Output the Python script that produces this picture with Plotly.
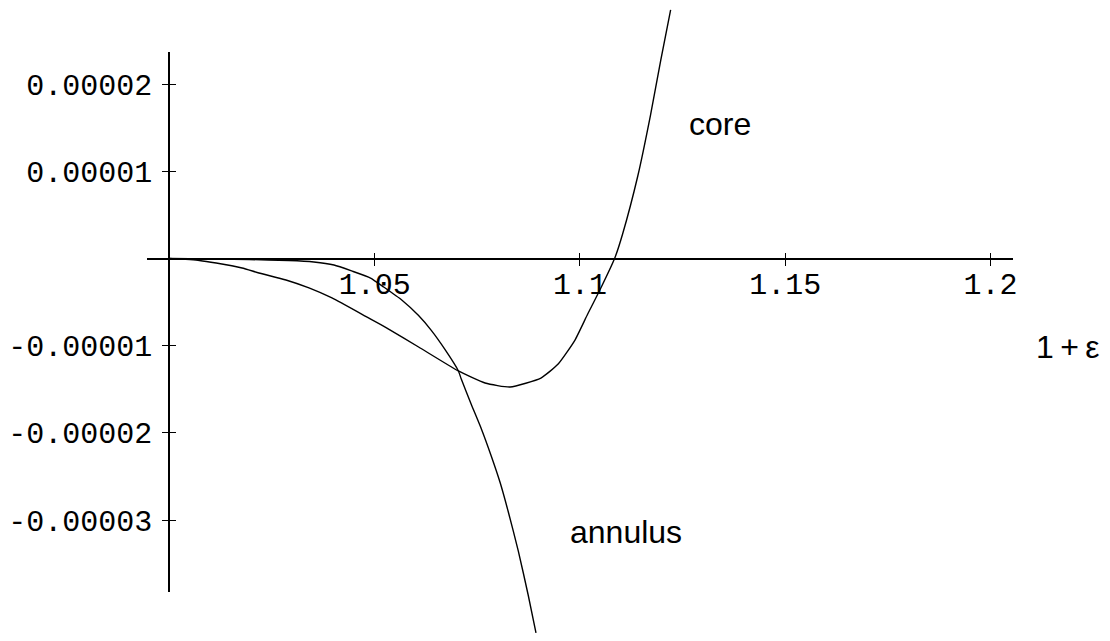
import plotly.graph_objects as go

# Energy difference curves versus 1 + epsilon
core_x = [1.0, 1.0073, 1.0114, 1.0177, 1.0218, 1.0284, 1.0340, 1.0396, 1.0485,
          1.0534, 1.0607, 1.0704, 1.0769, 1.0830, 1.0905, 1.0947, 1.0988, 1.1019,
          1.1051, 1.1085, 1.1104, 1.1141, 1.1172, 1.1197, 1.1221]
core_y = [0.0, -0.24e-6, -0.53e-6, -1.10e-6, -1.67e-6, -2.48e-6, -3.39e-6, -4.54e-6,
          -6.83e-6, -8.10e-6, -10.16e-6, -12.91e-6, -14.29e-6, -14.75e-6, -13.72e-6,
          -12.11e-6, -9.36e-6, -6.38e-6, -3.39e-6, 0.05e-6, 2.80e-6, 9.45e-6,
          16.44e-6, 22.75e-6, 28.49e-6]

annulus_x = [1.0, 1.0194, 1.0291, 1.0352, 1.0401, 1.0444, 1.0490, 1.0522, 1.0566,
             1.0607, 1.0638, 1.0672, 1.0704, 1.0711, 1.0735, 1.0760, 1.0784, 1.0806,
             1.0825, 1.0850, 1.0874, 1.0893]
annulus_y = [0.0, -0.13e-6, -0.24e-6, -0.41e-6, -0.76e-6, -1.44e-6, -2.25e-6, -3.28e-6,
             -4.77e-6, -6.56e-6, -8.26e-6, -10.50e-6, -12.91e-6, -13.83e-6, -16.70e-6,
             -19.56e-6, -22.66e-6, -25.76e-6, -28.97e-6, -33.56e-6, -38.60e-6, -42.94e-6]

x_tickvals = [1.05, 1.1, 1.15, 1.2]
x_ticktext = ["1.05", "1.1", "1.15", "1.2"]
y_tickvals = [2e-5, 1e-5, -1e-5, -2e-5, -3e-5]
y_ticktext = ["0.00002", "0.00001", "-0.00001", "-0.00002", "-0.00003"]

curve_labels = ["core", "annulus"]
label_x = [1.1342, 1.1112]
label_y = [1.536e-5, -3.143e-5]

W, H = 1110, 641
x_range = [0.99466, 1.20558]
y_range_full = [-4.3876e-5, 2.9633e-5]
y_range_axis = [-3.8257e-5, 2.3670e-5]

tick_font = dict(family="Liberation Mono, Courier New, monospace", size=30, color="black")
label_font = dict(family="Liberation Sans, Arial, sans-serif", size=32, color="black")

fig = go.Figure()
for xs, ys in [(core_x, core_y), (annulus_x, annulus_y)]:
    fig.add_trace(go.Scatter(x=xs, y=ys, mode="lines",
                             line=dict(color="black", width=1.4, shape="spline", smoothing=0.5),
                             showlegend=False, hoverinfo="skip"))

# empty traces so the secondary axes are laid out
for xa, ya in [("x", "y2"), ("x2", "y2"), ("x", "y3")]:
    fig.add_trace(go.Scatter(x=[], y=[], xaxis=xa, yaxis=ya, showlegend=False,
                             hoverinfo="skip"))

for text, lx, ly in zip(curve_labels, label_x, label_y):
    fig.add_annotation(x=lx, y=ly, xref="x", yref="y", text=text, showarrow=False,
                       font=label_font, xanchor="center", yanchor="middle")
fig.add_annotation(x=1072 / W, y=1 - 347.5 / H, xref="paper", yref="paper",
                   text="1\u2009+\u2009ε", showarrow=False, font=label_font,
                   xanchor="center", yanchor="middle")

x0_pos = (H - 259) / H
y_axis_pos = 170 / W
common = dict(showgrid=False, zeroline=False, linecolor="black", tickcolor="black",
              tickwidth=1, ticklen=6)

fig.update_layout(
    width=W, height=H, margin=dict(l=0, r=0, t=0, b=0),
    paper_bgcolor="white", plot_bgcolor="rgba(0,0,0,0)",
    xaxis=dict(domain=[148 / W, 1017 / W], range=x_range, anchor="free", position=x0_pos,
               showline=True, linewidth=2, ticks="outside", tickvals=x_tickvals,
               ticktext=x_ticktext, tickfont=tick_font, ticklabelstandoff=-8, **common),
    xaxis2=dict(overlaying="x", range=x_range, anchor="free", position=x0_pos,
                showline=False, ticks="inside", tickvals=x_tickvals,
                showticklabels=False, **common),
    yaxis=dict(domain=[0, 1], range=y_range_full, visible=False),
    yaxis2=dict(domain=[(H - 592) / H, (H - 52) / H], range=y_range_axis, anchor="free",
                position=y_axis_pos, showline=True, linewidth=2, ticks="outside",
                tickvals=y_tickvals, ticktext=y_ticktext, tickfont=tick_font,
                ticklabelstandoff=4, **common),
    yaxis3=dict(overlaying="y2", range=y_range_axis, anchor="free", position=y_axis_pos,
                showline=False, ticks="inside", tickvals=y_tickvals,
                showticklabels=False, **common),
)

fig.write_html("out.html")
